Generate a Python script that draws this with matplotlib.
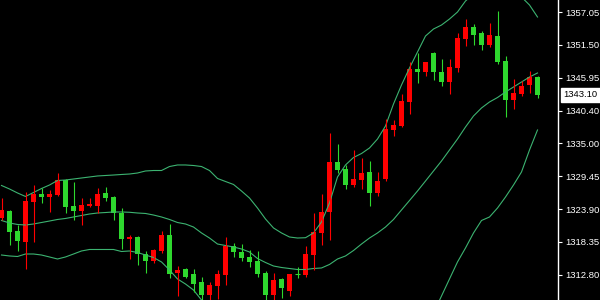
import numpy as np
import matplotlib
matplotlib.use("Agg")
import matplotlib.pyplot as plt
import matplotlib.transforms as mtransforms

# candle data (price)
opens = [1322.39, 1323.57, 1320.20, 1318.40, 1325.13, 1326.48, 1325.97, 1326.26, 1328.78, 1324.41,
         1323.62, 1324.46, 1324.46, 1326.60, 1325.97, 1323.28, 1318.86, 1319.19, 1316.33, 1315.15,
         1316.84, 1319.53, 1313.14, 1313.81, 1312.97, 1311.57, 1309.48, 1311.00, 1312.80, 1317.68,
         1316.67, 1315.88, 1315.15, 1313.14, 1309.43, 1312.13, 1310.16, 1312.97, 1312.80, 1316.16,
         1319.92, 1323.40, 1331.81, 1330.63, 1327.94, 1328.78, 1330.13, 1326.60, 1328.95, 1337.20,
         1337.87, 1341.91, 1347.46, 1346.96, 1350.15, 1346.96, 1345.27, 1347.63, 1352.51, 1354.53,
         1353.52, 1351.50, 1353.01, 1348.81, 1342.24, 1343.25, 1344.77, 1346.11]
highs = [1325.81, 1323.74, 1321.21, 1326.71, 1327.94, 1327.49, 1327.10, 1329.96, 1328.95, 1328.45,
         1325.81, 1325.81, 1327.49, 1327.61, 1326.09, 1324.07, 1319.53, 1319.30, 1316.84, 1317.17,
         1320.20, 1321.38, 1314.31, 1313.90, 1313.81, 1312.46, 1311.67, 1313.64, 1319.19, 1318.18,
         1318.02, 1317.00, 1316.84, 1313.47, 1313.14, 1312.34, 1312.97, 1314.09, 1317.68, 1323.23,
         1326.43, 1336.69, 1334.84, 1331.31, 1333.83, 1332.48, 1331.98, 1330.13, 1339.05, 1338.88,
         1343.25, 1348.64, 1350.15, 1348.64, 1350.32, 1349.14, 1349.14, 1353.52, 1355.87, 1355.03,
         1353.85, 1355.20, 1357.22, 1349.65, 1345.78, 1345.44, 1347.12, 1346.20]
lows = [1322.05, 1317.85, 1316.89, 1313.86, 1318.40, 1324.96, 1323.45, 1326.10, 1323.28, 1322.05,
        1321.21, 1324.24, 1323.28, 1325.30, 1322.05, 1317.17, 1315.49, 1314.53, 1313.14, 1314.77,
        1316.50, 1312.30, 1309.32, 1312.30, 1309.94, 1308.42, 1308.42, 1308.81, 1311.17, 1315.88,
        1315.21, 1314.20, 1312.46, 1308.26, 1308.26, 1308.98, 1309.27, 1312.34, 1312.46, 1313.64,
        1317.85, 1318.69, 1329.96, 1327.27, 1327.61, 1327.27, 1324.41, 1326.09, 1328.62, 1336.19,
        1337.70, 1339.89, 1345.10, 1346.28, 1345.61, 1344.60, 1343.25, 1346.96, 1351.33, 1351.50,
        1350.66, 1351.16, 1348.30, 1339.38, 1340.73, 1342.92, 1343.42, 1342.58]
closes = [1323.74, 1320.08, 1318.57, 1325.25, 1326.43, 1325.97, 1326.48, 1328.78, 1324.29, 1323.62,
          1324.58, 1324.80, 1326.48, 1325.75, 1323.28, 1318.86, 1319.19, 1316.33, 1315.15, 1317.00,
          1319.53, 1312.97, 1313.64, 1312.46, 1311.28, 1309.48, 1311.12, 1312.97, 1317.68, 1316.72,
          1315.66, 1315.03, 1313.02, 1309.43, 1312.01, 1310.66, 1312.97, 1312.97, 1316.33, 1320.03,
          1323.40, 1331.81, 1330.47, 1327.94, 1328.95, 1329.96, 1326.60, 1328.62, 1337.36, 1338.04,
          1342.08, 1347.46, 1346.96, 1348.64, 1346.96, 1345.27, 1347.80, 1352.68, 1354.53, 1353.18,
          1351.50, 1353.18, 1348.64, 1342.24, 1343.42, 1344.60, 1346.11, 1343.10]

# bollinger bands
upper = [1327.86, 1327.27, 1326.60, 1326.01, 1326.68, 1327.35, 1327.94, 1328.70, 1328.78, 1328.95,
         1329.12, 1329.29, 1329.46, 1329.54, 1329.62, 1329.71, 1329.79, 1329.96, 1330.30, 1330.38,
         1330.38, 1331.05, 1331.31, 1331.31, 1331.22, 1331.05, 1330.38, 1329.04, 1328.53, 1328.03,
         1326.93, 1325.75, 1324.07, 1322.22, 1320.71, 1319.87, 1319.19, 1319.02, 1319.07, 1319.87,
         1321.72, 1324.91, 1329.29, 1331.31, 1332.57, 1333.24, 1334.17, 1335.68, 1337.87, 1341.57,
         1344.77, 1347.63, 1350.32, 1353.01, 1354.19, 1354.86, 1355.87, 1357.05, 1358.90, 1360.08,
         1361.43, 1362.10, 1362.44, 1362.10, 1361.09, 1359.57, 1358.23, 1356.21]
middle = [1321.97, 1321.55, 1321.30, 1321.21, 1321.38, 1321.63, 1321.88, 1322.14, 1322.31, 1322.56,
          1322.81, 1323.06, 1323.23, 1323.31, 1323.40, 1323.40, 1323.35, 1323.23, 1323.15, 1322.89,
          1322.56, 1322.14, 1321.63, 1321.38, 1320.87, 1319.87, 1319.02, 1318.01, 1317.76, 1317.51,
          1317.17, 1316.67, 1315.57, 1314.90, 1314.31, 1314.06, 1313.89, 1313.72, 1313.72, 1313.89,
          1313.98, 1314.57, 1315.49, 1316.00, 1316.92, 1318.01, 1319.02, 1319.87, 1320.87, 1322.14,
          1323.74, 1325.33, 1326.93, 1328.61, 1330.30, 1331.98, 1333.83, 1335.68, 1337.70, 1339.55,
          1340.90, 1341.91, 1342.66, 1343.59, 1344.43, 1345.27, 1346.11, 1346.79]
lower = [1316.16, 1316.00, 1315.91, 1316.33, 1316.33, 1316.16, 1315.83, 1315.49, 1315.83, 1316.33,
         1316.84, 1317.09, 1317.09, 1317.09, 1317.09, 1316.75, 1316.84, 1316.58, 1316.16, 1315.74,
         1314.99, 1313.64, 1312.13, 1311.28, 1310.27, 1308.59, 1307.67, 1306.99, 1306.99, 1306.99,
         1307.41, 1307.58, 1307.08, 1307.58, 1307.92, 1308.26, 1308.09, 1308.09, 1308.09, 1307.92,
         1306.24, 1304.22, 1301.69, 1300.68, 1301.27, 1302.79, 1303.88, 1304.05, 1303.88, 1302.70,
         1302.70, 1303.04, 1303.54, 1304.22, 1306.40, 1309.26, 1312.13, 1314.99, 1317.34, 1319.87,
         1321.97, 1322.56, 1324.07, 1325.92, 1327.94, 1330.13, 1333.83, 1337.20]

tick_vals = [1357.05, 1351.50, 1345.95, 1340.40, 1335.00, 1329.45, 1323.90, 1318.35, 1312.80]
last_price = 1343.10

up_col = '#ff0000'
dn_col = '#2ed82e'
band_col = '#3cb371'

o = np.array(opens)
h = np.array(highs)
l = np.array(lows)
c = np.array(closes)
x = np.arange(len(o))
cols = np.where(c > o, up_col, dn_col)

fig = plt.figure(figsize=(6, 3), dpi=100, facecolor='black')
ax = fig.add_axes([0, 0, 558 / 600, 1])
ax.set_facecolor('black')

# bands
ax.plot(x, upper, color=band_col, lw=0.8)
ax.plot(x, middle, color=band_col, lw=0.8)
ax.plot(x, lower, color=band_col, lw=0.8)

# wicks + bodies
ax.vlines(x, l, h, colors=cols, lw=0.8)
ax.bar(x, c - o, bottom=o, width=0.625, color=cols, edgecolor='none')
doji = np.isclose(c, o)
ax.hlines(o[doji], x[doji] - 0.3125, x[doji] + 0.3125, colors=dn_col, lw=0.8)

ax.set_xlim(-0.1875, 69.5625)
ax.set_ylim(1308.59, 1359.07)

for s in ['top', 'left', 'bottom']:
    ax.spines[s].set_visible(False)
ax.spines['right'].set_color('white')
ax.spines['right'].set_linewidth(1)
ax.set_xticks([])
ax.yaxis.tick_right()
ax.set_yticks(tick_vals)
ax.set_yticklabels(['%.2f' % v for v in tick_vals])
ax.tick_params(axis='y', colors='white', length=3, width=0.8, pad=2,
               labelsize=6.8)
for lab in ax.get_yticklabels():
    lab.set_family('Liberation Sans')

# current price tag
trans = mtransforms.blended_transform_factory(ax.transAxes, ax.transData)
ax.text(1.010, last_price, '%.2f' % last_price, transform=trans, color='black',
        fontsize=6.8, family='Liberation Sans', va='center', ha='left',
        bbox=dict(boxstyle='square,pad=0.3', facecolor='white', edgecolor='white'),
        clip_on=False)

fig.savefig('out.png', dpi=100, facecolor='black')
